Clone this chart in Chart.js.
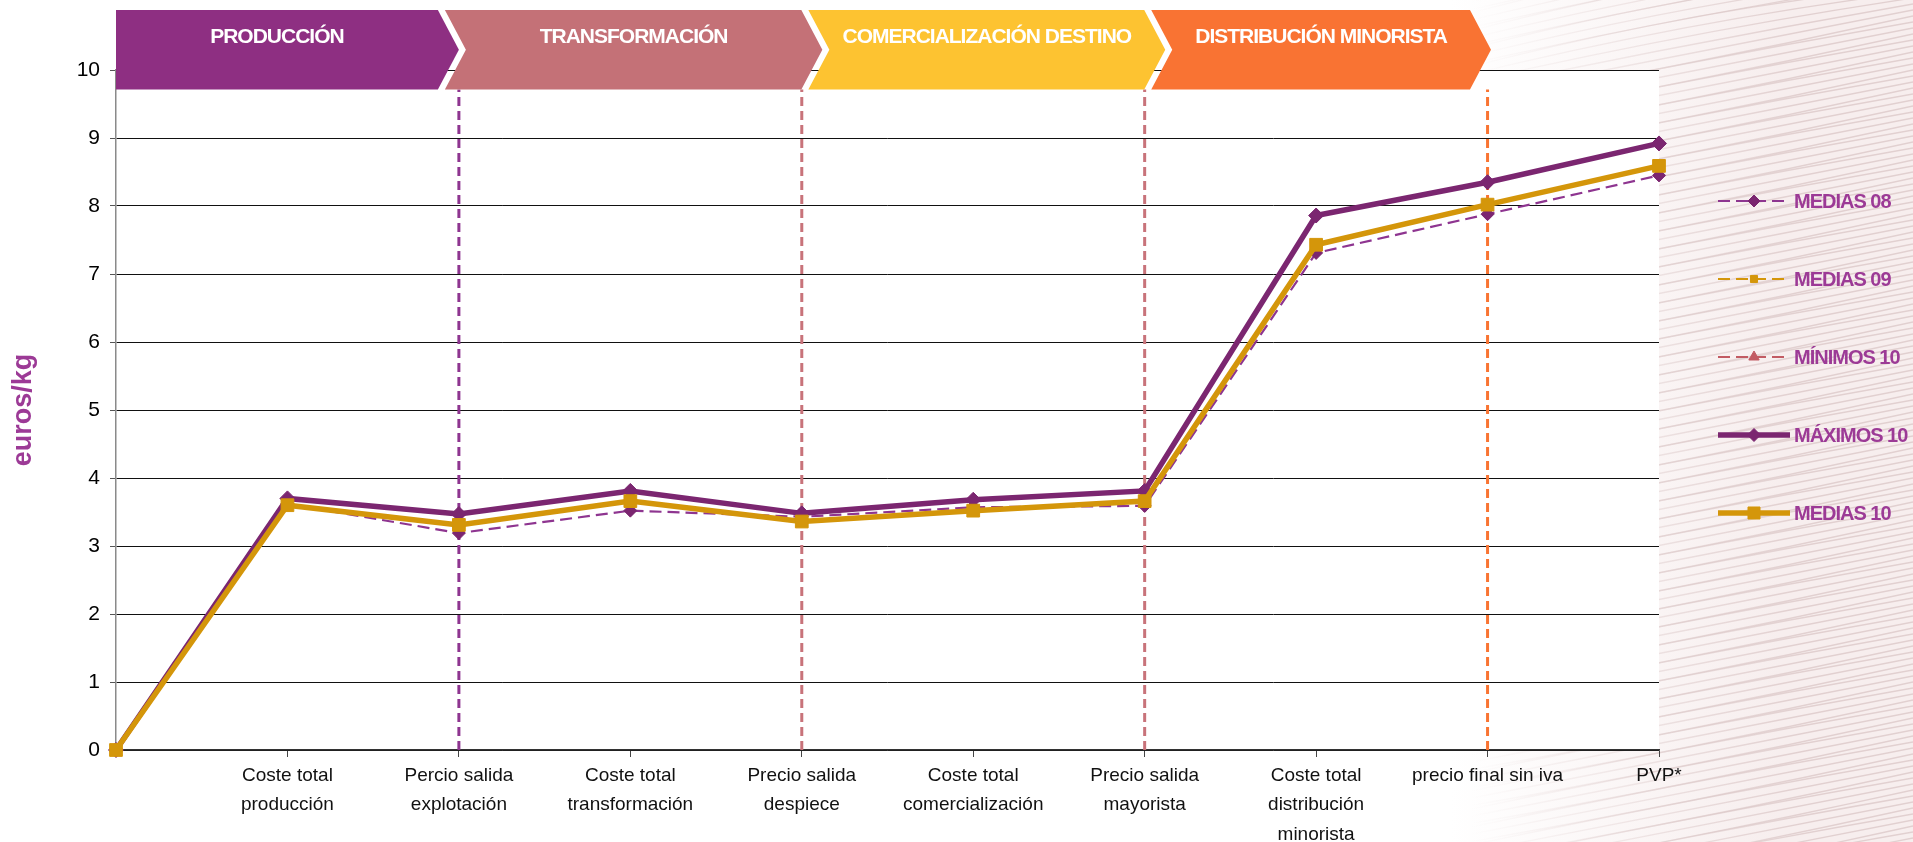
<!DOCTYPE html>
<html>
<head>
<meta charset="utf-8">
<script src="https://cdn.jsdelivr.net/npm/chart.js@4.4.1/dist/chart.umd.min.js"></script>
<style>
  html, body { margin: 0; padding: 0; background: #fff; }
  #grafico { display: block; }
</style>
</head>
<body>
<canvas id="grafico" width="1913" height="842"></canvas>
<script>
const categorias = [
  "",
  ["Coste total", "producción"],
  ["Percio salida", "explotación"],
  ["Coste total", "transformación"],
  ["Precio salida", "despiece"],
  ["Coste total", "comercialización"],
  ["Precio salida", "mayorista"],
  ["Coste total", "distribución", "minorista"],
  "precio final sin iva",
  "PVP*"
]

// euros/kg
const medias08 = [0, 3.62, 3.19, 3.52, 3.43, 3.57, 3.59, 7.31, 7.88, 8.45]
const medias09 = [0, 3.60, 3.31, 3.66, 3.36, 3.52, 3.66, 7.43, 8.02, 8.59] // quedan tapadas por medias 10
const minimos10 = [0, 3.60, 3.31, 3.66, 3.36, 3.52, 3.66, 7.43, 8.02, 8.59]
const maximos10 = [0, 3.70, 3.47, 3.81, 3.48, 3.68, 3.81, 7.86, 8.35, 8.92]
const medias10 = [0, 3.60, 3.31, 3.66, 3.36, 3.52, 3.66, 7.43, 8.02, 8.59]

const yMin = 0
const yMax = 10
const yPaso = 1

// flechas de la cabecera y lineas de separacion
const etapas = ["PRODUCCIÓN", "TRANSFORMACIÓN", "COMERCIALIZACIÓN DESTINO", "DISTRIBUCIÓN MINORISTA"]
const etapaFin = [2, 4.12, 6.12, 8.02]
const etapaColores = ["#8E2F82", "#C47177", "#FDC331", "#F97333"]
const separadores = [2, 4, 6, 8]
const separadorColores = ["#8E3590", "#C8737A", "#C8737A", "#F97432"]

const fuente = "'Liberation Sans', Arial, sans-serif"
const morado = "#7B2670"
const naranja = "#D4960A"
const textoLeyenda = "#9C3A96"

const fondo = {
  id: "fondo",
  beforeDraw(chart) {
    const { ctx, width, height, chartArea } = chart
    ctx.save()
    ctx.fillStyle = "#fff"
    ctx.fillRect(0, 0, width, height)
    const tinte = ctx.createLinearGradient(1450, 0, 1780, 0)
    tinte.addColorStop(0, "rgba(247,238,238,0)")
    tinte.addColorStop(1, "rgba(247,238,238,1)")
    ctx.fillStyle = tinte
    ctx.fillRect(0, 0, width, height)
    const rayas = ctx.createLinearGradient(1470, 0, 1800, 0)
    rayas.addColorStop(0, "rgba(214,192,192,0)")
    rayas.addColorStop(1, "rgba(214,192,192,0.65)")
    ctx.strokeStyle = rayas
    ctx.lineWidth = 1.3
    for (let y = -200; y < height + 250; y += 6) {
      ctx.beginPath()
      ctx.moveTo(1400, y + 100)
      ctx.quadraticCurveTo(1660, y + 40 + (y % 18), width, y)
      ctx.stroke()
    }
    ctx.fillStyle = "#fff"
    ctx.fillRect(chartArea.left, chartArea.top, chartArea.right - chartArea.left, chartArea.bottom - chartArea.top)
    ctx.restore()
  }
}

const lineasEtapa = {
  id: "lineasEtapa",
  beforeDatasetsDraw(chart) {
    const { ctx, chartArea, scales } = chart
    const abajo = chartArea.bottom
    const arriba = chartArea.top + 19.5
    ctx.save()
    ctx.lineWidth = 3
    ctx.setLineDash([9, 5])
    separadores.forEach((c, i) => {
      const px = scales.x.getPixelForValue(c)
      ctx.strokeStyle = separadorColores[i]
      ctx.beginPath()
      ctx.moveTo(px, abajo)
      ctx.lineTo(px, arriba)
      ctx.stroke()
    })
    ctx.restore()
  }
}

const cabecera = {
  id: "cabecera",
  afterDraw(chart) {
    const { ctx, chartArea, scales } = chart
    const arriba = chartArea.top - 60
    const abajo = chartArea.top + 19.5
    const medio = (arriba + abajo) / 2
    const punta = 21
    const hueco = 7
    let puntaAnterior = null
    ctx.save()
    etapas.forEach((txt, i) => {
      const tip = scales.x.getPixelForValue(etapaFin[i])
      const der = tip - punta
      let izq, muesca
      if (i === 0) {
        izq = chartArea.left
        muesca = izq
      } else {
        izq = puntaAnterior - punta + hueco
        muesca = puntaAnterior + hueco
      }
      ctx.fillStyle = etapaColores[i]
      ctx.beginPath()
      ctx.moveTo(izq, arriba)
      ctx.lineTo(der, arriba)
      ctx.lineTo(tip, medio)
      ctx.lineTo(der, abajo)
      ctx.lineTo(izq, abajo)
      ctx.lineTo(muesca, medio)
      ctx.closePath()
      ctx.fill()

      ctx.fillStyle = "#fff"
      ctx.font = "bold 21px " + fuente
      ctx.letterSpacing = "-1px"
      ctx.textAlign = "center"
      ctx.textBaseline = "middle"
      ctx.fillText(txt, (muesca + der) / 2, arriba + 27)
      puntaAnterior = tip
    })
    ctx.restore()
  }
}

const leyenda = {
  id: "leyenda",
  afterDraw(chart) {
    const { ctx, chartArea } = chart
    const x0 = chartArea.right + 59
    const x1 = chartArea.right + 131
    const xc = (x0 + x1) / 2
    ctx.save()
    chart.data.datasets.forEach((ds, i) => {
      const y = chartArea.top + 131 + i * 78
      ctx.strokeStyle = ds.borderColor
      ctx.lineWidth = ds.borderWidth
      ctx.setLineDash(ds.borderDash || [])
      ctx.beginPath()
      ctx.moveTo(x0, y)
      ctx.lineTo(x1, y)
      ctx.stroke()
      ctx.setLineDash([])
      ctx.fillStyle = ds.pointBackgroundColor
      ctx.strokeStyle = ds.pointBorderColor
      ctx.lineWidth = 1
      Chart.helpers.drawPoint(ctx, { pointStyle: ds.pointStyle, radius: ds.radioLeyenda, rotation: 0, borderWidth: 1 }, xc, y)

      ctx.fillStyle = textoLeyenda
      ctx.font = "bold 20px " + fuente
      ctx.letterSpacing = "-1px"
      ctx.textAlign = "left"
      ctx.textBaseline = "middle"
      ctx.fillText(ds.label, x1 + 4, y + 1)
    })
    ctx.restore()
  }
}

function serie(label, data, color, lineColor, ancho, dash, estilo, radio, radioLeyenda, orden) {
  return {
    label: label,
    data: data,
    borderColor: lineColor,
    borderWidth: ancho,
    borderDash: dash,
    pointStyle: estilo,
    pointRadius: radio,
    pointBackgroundColor: color,
    pointBorderColor: color,
    pointBorderWidth: 1,
    radioLeyenda: radioLeyenda,
    tension: 0,
    clip: false,
    order: orden
  }
}

new Chart(document.getElementById("grafico"), {
  type: "line",
  data: {
    labels: categorias,
    datasets: [
      serie("MEDIAS 08", medias08, morado, "#8E3590", 2.2, [12, 6], "rectRot", 6.5, 6, 5),
      serie("MEDIAS 09", medias09, naranja, naranja, 2.2, [12, 6], "rect", 4, 5, 4),
      serie("MÍNIMOS 10", minimos10, "#C25B63", "#C25B63", 2.2, [12, 6], "triangle", 4, 6, 3),
      serie("MÁXIMOS 10", maximos10, morado, morado, 5.5, [], "rectRot", 7.5, 6.5, 2),
      serie("MEDIAS 10", medias10, naranja, naranja, 5.5, [], "rect", 9, 8.5, 1)
    ]
  },
  options: {
    responsive: false,
    animation: false,
    layout: { padding: { left: 0, right: 254, top: 70, bottom: 0 } },
    plugins: {
      legend: { display: false },
      tooltip: { enabled: false }
    },
    scales: {
      x: {
        offset: false,
        afterFit: (s) => { s.height = 92 },
        grid: { drawOnChartArea: false, drawTicks: true, tickLength: 7, tickColor: "#444" },
        border: { display: true, color: "#333", width: 1.5 },
        ticks: {
          autoSkip: false,
          maxRotation: 0,
          padding: 4,
          color: "#111",
          font: { family: fuente, size: 19, lineHeight: 1.55 }
        }
      },
      y: {
        min: yMin,
        max: yMax,
        afterFit: (s) => { s.width = 116 },
        grid: { color: "#111", lineWidth: 1, tickLength: 6, tickColor: "#555" },
        border: { display: true, color: "#8a8a8a", width: 1.5 },
        ticks: {
          stepSize: yPaso,
          padding: 10,
          color: "#000",
          font: { family: fuente, size: 21 }
        },
        title: {
          display: true,
          text: "euros/kg",
          color: textoLeyenda,
          padding: { top: 7, bottom: 0 },
          font: { family: fuente, size: 27, weight: "bold" }
        }
      }
    }
  },
  plugins: [fondo, lineasEtapa, cabecera, leyenda]
})
</script>
</body>
</html>
